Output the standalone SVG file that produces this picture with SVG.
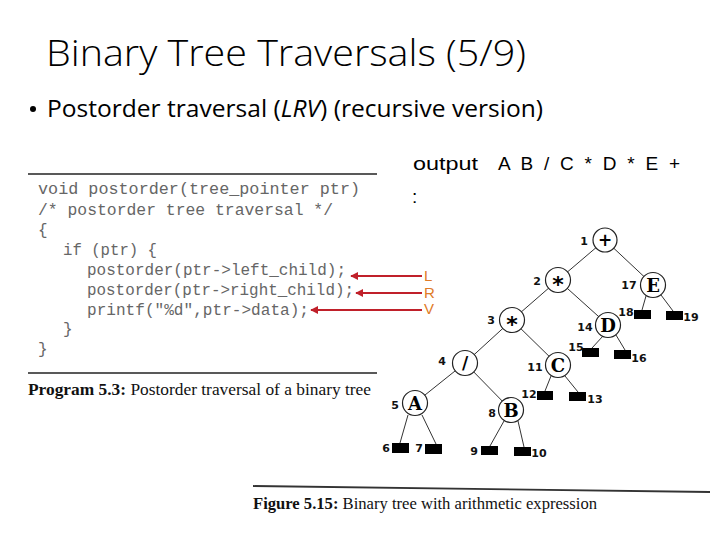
<svg xmlns="http://www.w3.org/2000/svg" width="720" height="540" viewBox="0 0 720 540">
<style>
.title{font-family:"Open Sans","Noto Sans",sans-serif;font-size:36px;font-weight:300;fill:#000}
.bul{font-family:"Open Sans","Noto Sans",sans-serif;font-size:24px;fill:#000}
.out{font-family:"Liberation Sans",Arial,sans-serif;font-size:19px;fill:#000}
.code{font-family:"Liberation Mono","Courier New",monospace;font-size:16px;fill:#666}
.cap{font-family:"Liberation Serif","Times New Roman",serif;font-size:16px;fill:#111}
.lrv{font-family:"Liberation Sans",Arial,sans-serif;font-size:15px;fill:#e07b28}
.arr{stroke:#c0202a;stroke-width:2;fill:none}
.rule{stroke:#222;stroke-width:1.6}
.edge{stroke:#333;stroke-width:1;fill:none}
.node circle{fill:#fff;stroke:#222;stroke-width:1.2}
.sym{font-family:"DejaVu Serif","Liberation Serif",serif;font-size:18px;font-weight:bold;text-anchor:middle;fill:#000}
.op{font-family:"DejaVu Sans","Liberation Sans",sans-serif;font-weight:bold;text-anchor:middle;fill:#000}
.num{font-family:"DejaVu Sans","Liberation Sans",sans-serif;font-size:11px;font-weight:bold;text-anchor:middle;fill:#111}
.leaf rect{fill:#000}
</style>
<defs>
<marker id="ah" viewBox="0 0 10 10" refX="9" refY="5" markerWidth="4" markerHeight="4" orient="auto" markerUnits="strokeWidth">
<path d="M0,0 L10,5 L0,10 z" fill="#c0202a"/>
</marker>
</defs>
<rect width="720" height="540" fill="#fff"/>

<text class="title" x="46" y="66" textLength="480" lengthAdjust="spacingAndGlyphs">Binary Tree Traversals (5/9)</text>
<circle cx="33" cy="109" r="3" fill="#000"/>
<text class="bul" x="47" y="117" textLength="496" lengthAdjust="spacingAndGlyphs">Postorder traversal (<tspan font-style="italic">LRV</tspan>) (recursive version)</text>

<g id="output">
<text class="out" x="413" y="170" textLength="65" lengthAdjust="spacingAndGlyphs">output</text>
<text class="out" x="498" y="170" textLength="182" lengthAdjust="spacing">A B / C * D * E +</text>
<text class="out" x="412" y="203">:</text>
</g>

<g id="program">
<line class="rule" x1="28" y1="174" x2="377" y2="174"/>
<text class="code" x="38" y="194" textLength="322" lengthAdjust="spacingAndGlyphs">void postorder(tree_pointer ptr)</text>
<text class="code" x="38" y="215" textLength="295" lengthAdjust="spacingAndGlyphs">/* postorder tree traversal */</text>
<text class="code" x="38" y="235">{</text>
<text class="code" x="63" y="255" textLength="94" lengthAdjust="spacingAndGlyphs">if (ptr) {</text>
<text class="code" x="87" y="275" textLength="259" lengthAdjust="spacingAndGlyphs">postorder(ptr-&gt;left_child);</text>
<text class="code" x="87" y="295" textLength="267" lengthAdjust="spacingAndGlyphs">postorder(ptr-&gt;right_child);</text>
<text class="code" x="87" y="315" textLength="222" lengthAdjust="spacingAndGlyphs">printf("%d",ptr-&gt;data);</text>
<text class="code" x="63" y="334">}</text>
<text class="code" x="38" y="354">}</text>
<line class="rule" x1="28" y1="373" x2="377" y2="373"/>
<text class="cap" x="28" y="395" textLength="343" lengthAdjust="spacingAndGlyphs"><tspan font-weight="bold">Program 5.3:</tspan> Postorder traversal of a binary tree</text>
</g>

<g id="lrv">
<line class="arr" x1="422" y1="276" x2="351" y2="276" marker-end="url(#ah)"/>
<line class="arr" x1="422" y1="293" x2="356" y2="293" marker-end="url(#ah)"/>
<line class="arr" x1="422" y1="310" x2="311" y2="310" marker-end="url(#ah)"/>
<text class="lrv" x="424" y="281">L</text>
<text class="lrv" x="424" y="297.5">R</text>
<text class="lrv" x="424" y="314">V</text>
</g>

<g id="connectors">
<line class="edge" x1="605" y1="240" x2="558" y2="280"/>
<line class="edge" x1="605" y1="240" x2="653" y2="285"/>
<line class="edge" x1="558" y1="280" x2="512" y2="320"/>
<line class="edge" x1="558" y1="280" x2="608" y2="325"/>
<line class="edge" x1="512" y1="320" x2="465" y2="363"/>
<line class="edge" x1="512" y1="320" x2="558" y2="365"/>
<line class="edge" x1="465" y1="363" x2="415" y2="403"/>
<line class="edge" x1="465" y1="363" x2="511" y2="410"/>
<line class="edge" x1="646" y1="296" x2="642" y2="310"/>
<line class="edge" x1="661" y1="295" x2="673" y2="311"/>
<line class="edge" x1="603" y1="336" x2="592" y2="348"/>
<line class="edge" x1="616" y1="335" x2="625" y2="350"/>
<line class="edge" x1="551" y1="376" x2="545" y2="391"/>
<line class="edge" x1="565" y1="376" x2="578" y2="392"/>
<line class="edge" x1="408" y1="415" x2="400" y2="443"/>
<line class="edge" x1="422" y1="415" x2="436" y2="444"/>
<line class="edge" x1="504" y1="421" x2="490" y2="446"/>
<line class="edge" x1="518" y1="421" x2="524" y2="447"/>
</g>

<g id="n1" class="node"><circle cx="605" cy="240" r="12"/><text class="op" x="605" y="246" font-size="17">+</text><text class="num" x="584" y="245">1</text></g>
<g id="n2" class="node"><circle cx="558" cy="280" r="12.5"/><text class="op" x="558" y="292" font-size="22">*</text><text class="num" x="537" y="285">2</text></g>
<g id="n17" class="node"><circle cx="653" cy="285" r="12.5"/><text class="sym" x="653" y="292">E</text><text class="num" x="629" y="289">17</text></g>
<g id="n3" class="node"><circle cx="512" cy="320" r="12.5"/><text class="op" x="512" y="332" font-size="22">*</text><text class="num" x="491" y="324">3</text></g>
<g id="n14" class="node"><circle cx="608" cy="325" r="12.5"/><text class="sym" x="608" y="332">D</text><text class="num" x="585" y="331">14</text></g>
<g id="n4" class="node"><circle cx="465" cy="363" r="12.5"/><text class="op" x="465" y="369" font-size="17">/</text><text class="num" x="442" y="365">4</text></g>
<g id="n11" class="node"><circle cx="558" cy="365" r="12.5"/><text class="sym" x="558" y="372">C</text><text class="num" x="535" y="371">11</text></g>
<g id="n5" class="node"><circle cx="415" cy="403" r="12.5"/><text class="sym" x="415" y="410">A</text><text class="num" x="395" y="409">5</text></g>
<g id="n8" class="node"><circle cx="511" cy="410" r="12.5"/><text class="sym" x="511" y="417">B</text><text class="num" x="492" y="417">8</text></g>

<g id="l18" class="leaf"><rect x="634" y="310" width="17" height="9"/><text class="num" x="626" y="316">18</text></g>
<g id="l19" class="leaf"><rect x="666" y="311" width="17" height="9"/><text class="num" x="691" y="321">19</text></g>
<g id="l15" class="leaf"><rect x="582" y="348" width="17" height="9"/><text class="num" x="576" y="351">15</text></g>
<g id="l16" class="leaf"><rect x="614" y="350" width="17" height="9"/><text class="num" x="639" y="362">16</text></g>
<g id="l12" class="leaf"><rect x="537" y="391" width="16" height="9"/><text class="num" x="529" y="398">12</text></g>
<g id="l13" class="leaf"><rect x="569" y="392" width="17" height="9"/><text class="num" x="595" y="403">13</text></g>
<g id="l6" class="leaf"><rect x="392" y="443" width="17" height="10"/><text class="num" x="386" y="452">6</text></g>
<g id="l7" class="leaf"><rect x="425" y="444" width="17" height="10"/><text class="num" x="419" y="452">7</text></g>
<g id="l9" class="leaf"><rect x="481" y="446" width="17" height="9"/><text class="num" x="474" y="455">9</text></g>
<g id="l10" class="leaf"><rect x="514" y="447" width="17" height="9"/><text class="num" x="539" y="457">10</text></g>

<g id="figure-caption">
<line x1="253" y1="486" x2="710" y2="492" stroke="#333" stroke-width="1.8"/>
<text class="cap" x="253" y="509" textLength="344" lengthAdjust="spacingAndGlyphs"><tspan font-weight="bold">Figure 5.15:</tspan> Binary tree with arithmetic expression</text>
</g>
</svg>
